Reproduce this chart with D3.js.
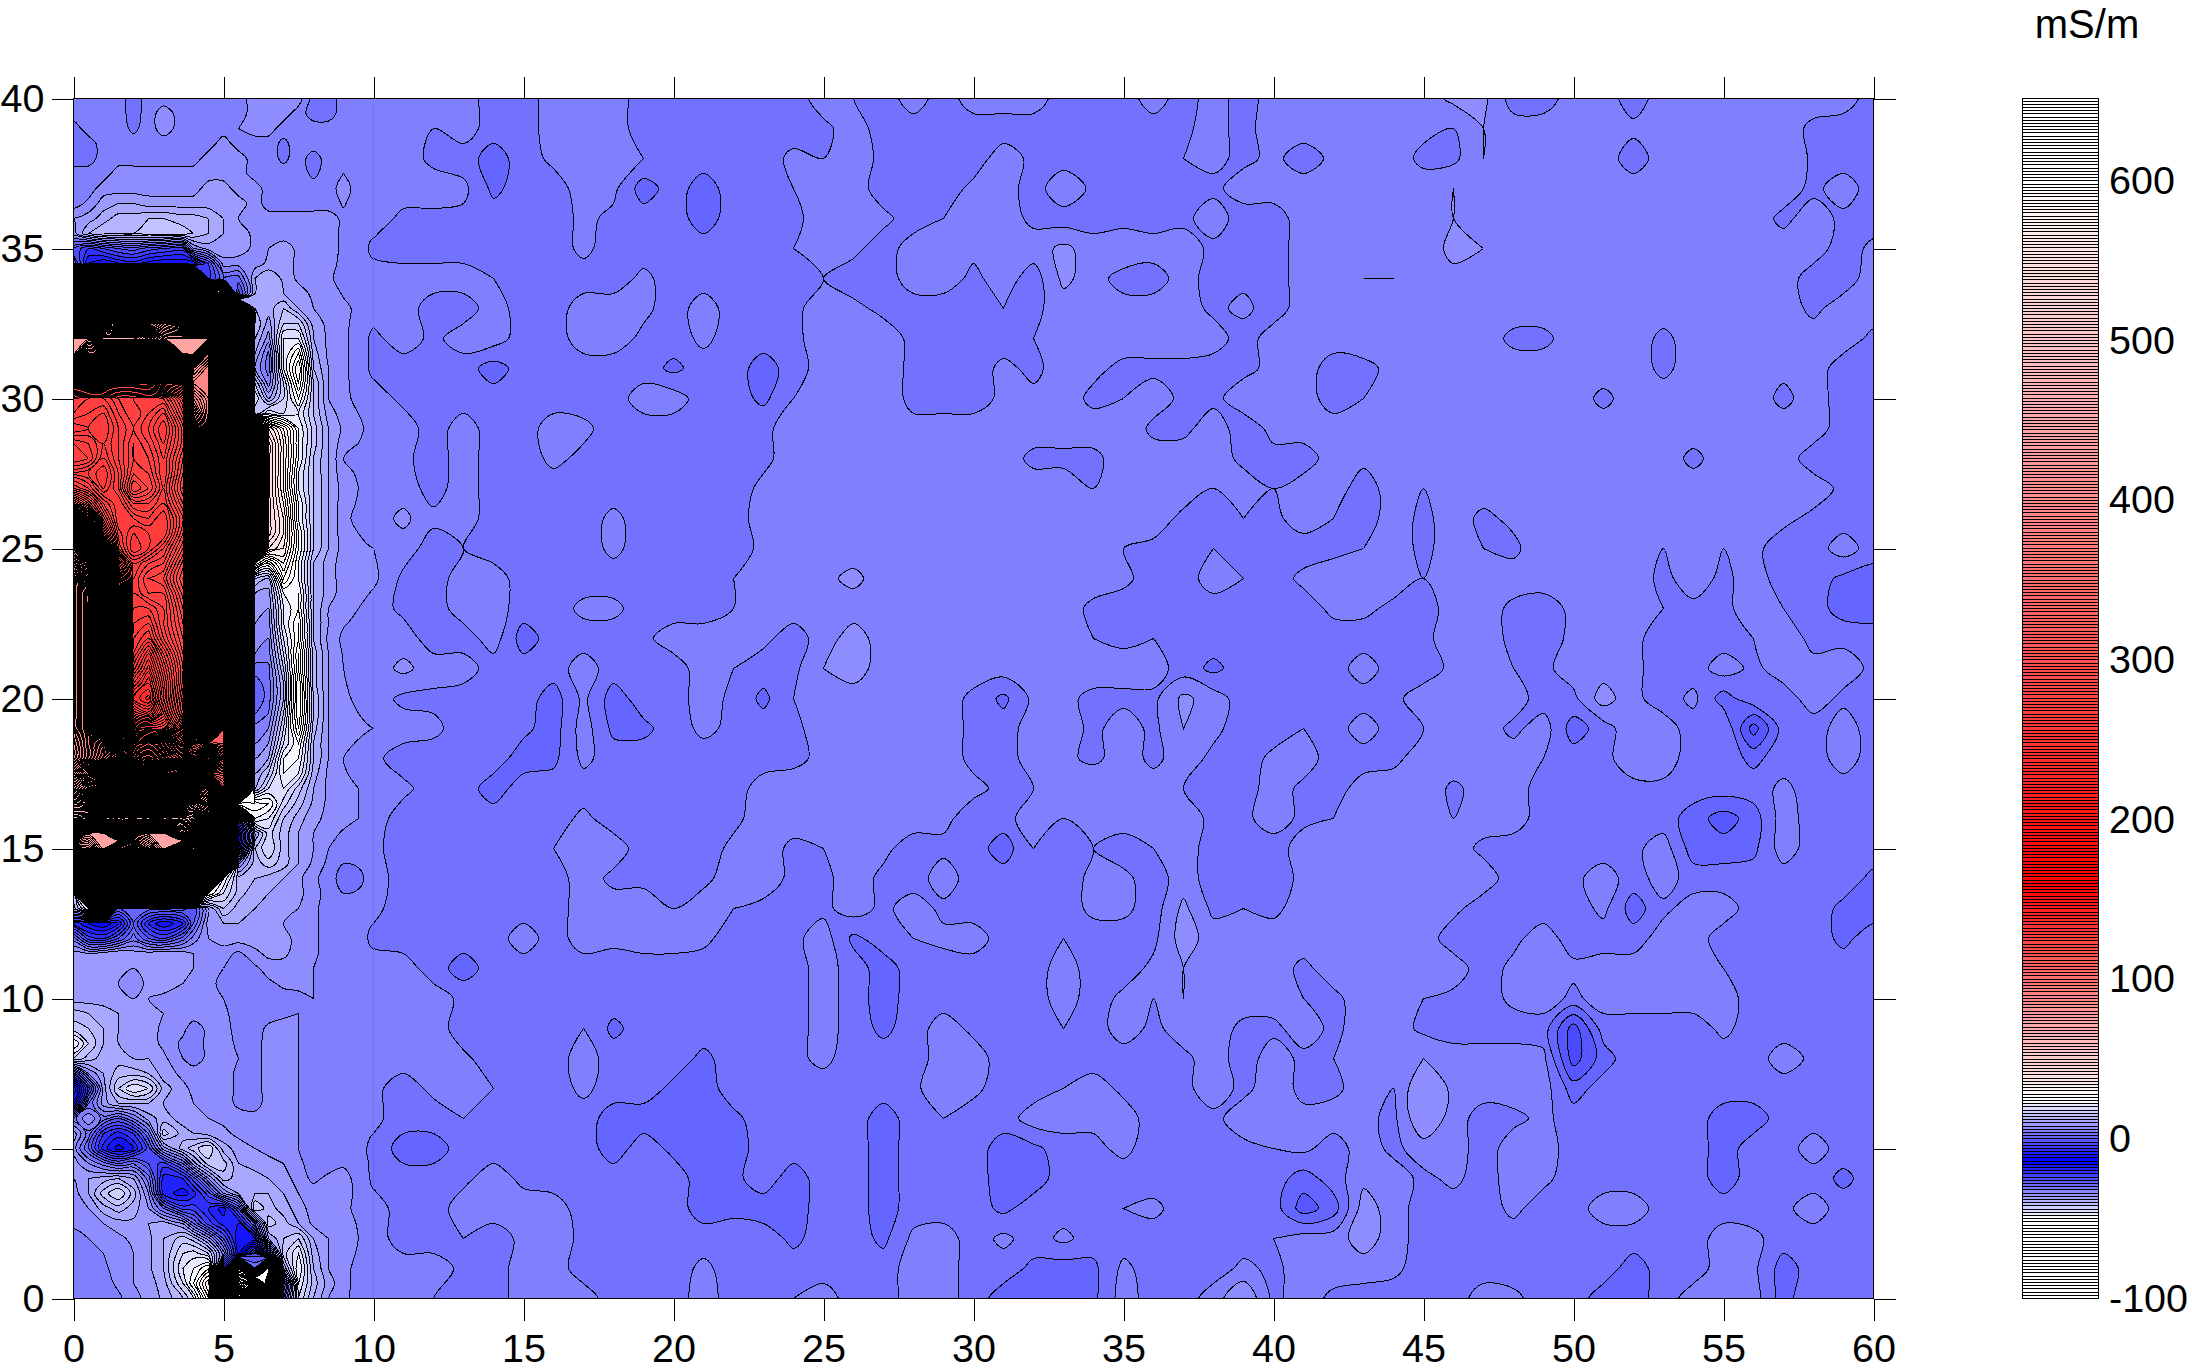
<!DOCTYPE html>
<html>
<head>
<meta charset="utf-8">
<style>html,body{margin:0;padding:0;background:#fff}svg{display:block}text{font-family:"Liberation Sans",Arial,sans-serif;fill:#000}</style>
<script src="https://cdnjs.cloudflare.com/ajax/libs/d3/7.9.0/d3.min.js"></script>
</head>
<body>
<svg id="chart" width="2192" height="1372"></svg>
<script>
const axisTicksX = [0,5,10,15,20,25,30,35,40,45,50,55,60];
const axisTicksY = [0,5,10,15,20,25,30,35,40];
const barTicks = [-100,0,100,200,300,400,500,600];
const unitLabel = "mS/m";
const levelStep = 2;
const levelMin = -100;
const levelMax = 650;
const barTop = 651.6;
const colourStops = [-100,-50,-14,24,160,600,650];
const colourValues = ["#ffffff","#ffffff","#0000ff","#ffffff","#ff0000","#ffffff","#ffffff"];

// west part of the survey: rows y = 40 ... 0 every 0.5
const westX = [0,.5,1,1.5,2,2.5,3,3.65,4,4.5,5,5.5,6.05,6.5,7,7.5,8,8.5,9,9.5,10];
const westRows = [
[5,5,5,5,3,5,5,5,5,5,5,5,7,7,7,7,3,3,5,5,5],
[5,5,5,5,3,5,7,5,5,5,5,5,7,7,7,5,3,3,5,5,5],
[3,5,5,5,3.5,5,7,5,5,5,5,6,7,7,5,5,5,5,5,5,5],
[3,3,5,5,5,5,5,5,5,5,7,5,5,5,3.5,5,5,5,5,5,5],
[3,3,5,5,5,5,5,5,5,7,7,7,5,5,3.5,5,3,5,5,5,5],
[5,5,5,7,7,7,7,7,7,7,7,7,5,5,5,5,3.5,5,6,5,5],
[5,5,7,7,7,7,7,7,7,9,9,7,7,5,5,5,5,5,7,5,5],
[5,6.5,9,10,10,9,9,9,9,9,9,9,7,5,5,5,5,5,6.2,5,5],
[8,9,11,13,13,14,14,13,13,12,10,8,7,7,7,7,7,7,5.5,5,5],
[7,12,14,14,14,15,15,15,14,12,10,9,7.5,7.5,7,7,7,7,5.5,5,4.2],
[-2,-6,-4,-2,-1,-3,-4,-5,6,9,9.5,9,7.5,8,9,7.5,7,7,5.5,5,3.5],
[2,-10,-12,-10,-9,-11,-12,-12,-12,-4,7,7,7,8.5,9,7.5,7,7,5.2,5,4.2],
[120,130,140,140,140,140,130,110,40,-5,2,1,10,12,9.5,7.5,7,6.5,5,5,5],
[230,240,240,240,240,240,230,200,140,50,30,-3,10,12,10,9,7.5,7,5.8,5.2,5],
[330,340,350,350,350,340,330,320,260,180,100,40,12,11,14,10,8,7,6.5,5.5,5],
[400,410,440,440,440,430,420,410,360,300,220,120,14,9,16,16,9,7.5,6.5,5.2,4.2],
[441,441,470,470,470,460,441,441,441,441,320,160,12,7,20,20,10,7.5,6.5,5,3.5],
[441,420,420,420,420,420,400,441,441,400,300,150,10,3.5,20,26,11,7.5,6.5,5,3.5],
[360,355,355,355,355,355,350,345,400,390,300,150,8,3,20,30,12,8,6.5,5,3.5],
[295,295,295,295,295,295,300,305,390,390,300,150,14,5,16,28,14,8,6.5,5.2,4.2],
[270,268,268,272,272,270,272,285,380,390,300,150,18,10,16,24,14,8,6.5,5.5,5],
[268,266,264,270,274,270,266,280,370,390,300,150,14,20,18,20,14,9,7,6,5],
[262,264,262,268,272,268,262,275,360,390,320,220,100,40,32,22,15,10,7.5,6.5,5],
[270,268,264,268,274,270,264,275,350,390,320,220,120,45,34,22,15,10,6.8,6,5],
[272,270,262,268,274,272,266,278,350,390,320,220,120,45,34,22,14,10,6,5.5,5],
[264,262,258,266,276,274,266,280,350,390,320,220,120,45,34,20,14,10,6.5,5.8,5],
[272,268,260,266,280,276,268,282,350,390,320,220,120,45,34,20,14,10,7,6,5],
[290,280,268,262,270,270,266,278,350,390,320,220,120,45,36,22,14,10,6.8,5.8,5],
[320,300,275,262,264,266,262,274,350,390,320,220,120,45,38,22,14,10,6.5,5.5,5],
[350,325,285,265,260,262,262,276,350,390,320,220,120,45,38,24,14,10,6.8,6,5.5],
[380,350,300,268,258,262,268,280,350,390,320,220,110,40,36,24,14,10,7,6.5,6],
[400,375,330,285,266,270,272,285,350,390,320,220,32,24,32,22,12,9,7,6.8,6.2],
[410,380,340,295,268,274,276,288,350,390,320,220,14,12,28,22,12,9,7,7,6.5],
[410,385,345,300,268,272,272,285,350,390,320,220,10,9,22,24,12,9,7,6.5,5.8],
[410,385,345,300,266,266,270,282,350,390,320,220,10,8,20,24,12,8,7,6,5],
[410,385,345,300,264,262,270,280,350,390,320,220,8,7,20,26,12,8,6.2,5.5,5],
[410,385,345,300,262,258,268,278,350,390,320,220,7,6,18,26,12,7.5,5.5,5,5],
[410,385,345,300,260,250,262,276,350,390,320,220,6,5,16,28,13,8,5.8,5,5],
[410,385,345,300,255,245,258,274,350,390,320,220,3,3.5,14,28,13,8,6,5,5],
[410,385,345,300,248,240,255,275,350,390,320,220,1,3,12,30,13,8,6.2,5.2,5],
[410,385,345,300,240,235,254,278,350,390,320,220,0,3,12,30,14,8,6.5,5.5,5],
[410,385,345,300,250,245,258,280,350,390,320,220,2,4,14,30,14,8,6.8,6,5.5],
[410,385,350,310,272,268,268,290,355,390,320,220,5,6,16,28,13,8,7,6.5,6],
[405,385,360,325,300,295,300,310,330,320,320,220,6,8,18,24,12,8,6.5,5.8,5.2],
[405,385,365,345,325,320,325,335,310,270,300,200,8,10,22,22,12,8,6,5,4.5],
[425,410,395,380,360,350,360,370,350,320,320,200,10,14,22,20,11,7.5,6.2,5.5,4.8],
[445,435,425,415,405,400,405,410,420,420,330,180,12,18,20,15,10,7.5,6.5,6,5],
[470,465,455,445,445,445,450,450,460,440,280,28,26,24,17,13,9.5,7.5,6.5,6,5],
[490,495,495,490,485,490,490,485,480,440,230,-5,22,20,14,11,8.5,7.5,6.5,6,5],
[460,441,441,460,441,441,441,460,450,400,180,-15,10,17,13,10,8,6.5,5.8,5.5,4.8],
[420,425,441,420,410,425,441,420,400,340,150,-12,14,18,13,10,8,6,5,5,4.5],
[340,330,320,320,320,320,320,320,300,220,110,6,13,15,13,10,7.5,5.5,4,4.2,4.8],
[260,250,240,240,240,240,230,230,200,120,22,13,12,11,10,8.5,6.5,5,3,3.5,5],
[14,150,150,130,130,130,120,120,80,24,18,13,10.5,10,9,8.5,7,5,4,4.2,4.8],
[11,20,40,0,1,1,1,1,-2,8,14,11,10,9,8.5,8,6.5,5,5,5,4.5],
[-8,-12,-14,-10,0,-8,-12,-8,0,9,10,10,9,8,8,7,6.5,5,5,4.9,4],
[3,-5,-6,-2,3,-2,-4,1,5,8,9,9,9,9,8.5,7.5,6.5,5,5,4.8,3.5],
[9,8,9,10,9,9,10,9,8,7.5,7,5.5,7.5,8.5,8.5,7,6.5,5,5,4.9,4.2],
[8.5,9,9,8.5,8,9,9,8.5,8,7.5,6,5,5.5,7,7,6.5,6,5,5,5,5],
[9,9,9,8,7,8.5,9,8,7.5,7,5,5,5,5.5,6.5,6.5,6,5,5,5,5],
[9,9,9,8,8,8,7.5,7,7,6.5,6,5,5,5,5,5.5,6,5,5,5,5],
[13,12,11,10,9.5,9,8,7,7,7,6.5,5,5,5,5.5,6,5,5,5,5,5],
[15,14,12,10,9.5,9,7.5,6.5,5,6.5,7,5,5,6.5,7,6,5,5,5,5,5],
[22,16,12,10,9.5,9,7.5,5.5,5,6.5,7,5.5,5,7,7,6,5,5,5,5,4.6],
[16,13,11,11,10,10,8.5,6,5,6.5,7,6,5,7,7,6,5,5,5,5,4.2],
[-5,6,10,13,13,12,9,7.5,7,6.5,7,5.5,5,7,7,6,5,5,5,5,4.4],
[-20,-5,9,16,20,18,11,8.5,7.5,7,7,5.5,5,7,7,6,5,5,5,5,4.5],
[-15,2,9,12,12,12,10,8.5,8,7,7,5.5,5,7,7,6,5,5,5,5,4.5],
[3,8,3,0,4,9,11,9,8.5,8,7.5,7,7,7,7,6,5,5,5,5,4.5],
[9,3,-6,-9,-6,2,15,11,10,9,8.5,7.5,6.5,7,7,6,5,5,5,4.8,4],
[7,0,-9,-13,-10,-3,7,13,15,18,11,9,8,7,7,6,5,5,5,4.6,3.5],
[9,6,3,0,2,-2,-5,2,9,15,15,10,9,9,8,6.5,5,5,5.8,5,3.5],
[8,10,11,12,10,3,-9,-8,-3,6,13,11,11,10,9,7,5.5,6.5,6.5,5.5,3.5],
[7,10,15,18,13,6,-9,-11,-9,-3,6,10,12,12,10,8,7,7,6.8,5.5,4.2],
[7,8,11,13,11,8,2,-5,-5,-8,-11,-2,16,13,11,9,7,7,6.5,5.5,5],
[6.5,7,8,9,9.5,10,11,8,2,-5,-9,-10,0,15,13,10,7.5,7,7,5.8,5],
[5,6,7,7.5,8.5,9.5,12,15,13,7,-2,-12,-10,10,14,16,10,8,7,6,5],
[5,5,6,7,8,9.5,12,18,19,16,5,-12,-25,-5,15,20,11,8,6.8,5.8,5],
[5,5,5.5,7,8,9.5,12,20,22,26,-10,-60,-30,-70,10,22,12,8,6.5,5.5,5],
[5,5,5,6.5,8,9,11,18,24,34,-30,-80,-95,-60,-5,20,13,9,6.5,5.4,5],
[5,5,5,5.5,7.5,8.5,10.5,14,18,30,-40,-95,-50,-95,0,18,12,8,6.5,5.3,5]
];

// rest of the survey: rows y = 40 ... 0 every 1; columns x = 9...14
const nearRows = [
[5,5,5,5,5,3],[5,5,5,4,5,3],[5,5,5,3.5,3,1],[7,5,5,5,4.5,1.5],[5.5,5,3.5,3.5,3.5,3],
[5.5,3.5,3,3,3,3],[5,5,5,5,5,4],[6.5,5,5,3,3,5],[6.5,3.5,5,3.5,5,5],[6.5,3.5,3,3,3,1],
[6.5,5,3.5,3,3,3],[7.5,5,5,3,5,3],[6,5,4.5,3,5,3],[7,5,5,3.2,5,3],[6.5,5,6.5,4.5,5,3],
[7,6,5,3,4,3],[7,6.5,3.5,3,5,5],[7,5,3.5,3,5,5],[5.5,5,5,3,3,5],[6,5,6.5,5,5,3],
[6.5,5,3.5,3.5,3,3],[7,6,5,4.5,3,3],[6,4.5,3,3,3,3],[6.5,5,4.5,3,3,1],[6.5,5,3,3,3,3],
[5,4.5,3,3,3,3],[3,5,3,3,3,3],[5,4.5,3,3,3,3],[5,3.5,3,3,3,3],[5,5,5,3,1,3],
[5,5,5,5,3.5,3],[5,5,5,5,3,3],[5,4.2,5,5,4.4,3],[5,4.5,3,4.5,5,4],[5,4.5,3,3,4,3],
[5,3.5,1,1,3,3],[6.5,3.5,3,3,3.5,5],[6.5,5,3,3,5,5],[7,5,3,3,4,3],[6.5,5,5,5,3.5,3],[6.5,5,5,4,3,3]
];
// columns x = 15...36
const midRows = [
[3,5,5,5,3,3,3,3,3,3,5,4,3,5,3,5,5,5,3,3,3,5],
[3,5,5,5,3,3,3,3,3,3,3.5,5,3,3,3,3,3,3,3,3,3,3],
[3,4.5,5,5,4,3,3,3,3,4.5,4,5,3.5,3,3,3,5,3.5,3,3,3,3],
[3,3,5,4.5,1,3,1,3,3,4,5,5,3,3,3,4.5,5,3,5.5,3.5,3,3],
[3,3,4.5,3.5,3,3,1,3,3,3.5,5,5,4.5,3,4,5,5,3.5,3,3,3,3],
[3,3,4.5,3,3,3,3,3,3,4,5,4.5,3,5,4,4.5,5,5,6.5,5,6,5],
[3,3,3,3,4.5,3,3,3,3,3.5,4,3,3,5,5,3.5,5,3,6.5,5,3,3],
[3,3,5,5,4.5,3,5,3,3,3.5,5,4.5,3.5,3,3,3,4,3.5,5,5,5,5],
[3,3,5,5,3.5,3,4.5,3,3,3.5,5,5,5,3.5,3,3,3,4,5,5,5,5],
[3,3,3,3,3,1.5,3,3,1,3,5,5,5,3.5,3,3,4.5,3.5,5,4.5,3.5,3.5],
[3,3,3,3,5,5,3,3,1.5,4,5,5,5,3.5,3,3,4.5,4.5,5,3.5,4,5],
[3,5,4.5,3,3,3,3,3,3.5,5,5,5,5,4.5,5,5,5,5,5,5,5.5,3.5],
[3,4.5,3.5,3,3,3,3,3,3.5,5,5,5,5,5,5,5,5,3.5,3.5,3.5,5,5],
[3,3,3.5,3,3,3,3,3,4.5,5,5,5,5,5,5,5,5,5,5,4,5,5],
[3,3,3,4.5,3,3.5,3,3,5,4.5,5,5,5,5,5,5,5,5,5,5,5,5],
[3,3,3,4.5,3,4,3,3,4.5,4,5.5,5,5,5,5,5,5,5,5,5,4,3.5],
[3,3,3,3,3,3,3,4,5,4.5,5.5,6.5,5,5,5,5,5,5,5,5,4.5,3],
[3,3,4.5,4.5,3,3,3,4,5,5,5,5,5,5,4.5,4.5,5,5,5,3.5,3,3],
[1,3,3,3,3.5,5,5,4,4.5,3,5,7,5,5,5,5,5,5,5,4,3.5,4],
[3,3,5,3,4,3,5,4,3,3.5,6,7,5,5,5,5,5,5,5,5,5,5],
[3,1,4.5,1,3,3,5,3.5,1.5,4,5,5,5,5,5,3.5,1.5,4.5,4.5,3.5,3.5,3.5],
[2.5,1,5,1.5,1.5,3,4.5,3.5,3,3.5,5,5,5,5,5,3.5,3,5,5,3.5,5,3.5],
[1,1.5,4.5,3,3,3,3,3,3.5,3.5,4.5,5,5,5,5,3.5,3,5,4.5,3.5,5,3.5],
[3,3,3,3,3,3,3,3.5,4.5,5,5,5,5,5,5,4.5,3.5,4,5,6,4.5,5],
[3,3,4.5,3,3,3,3,3.5,5,5,5,5,5,5,4.5,3,3,5.5,4,5,5,5],
[3,4,5,5,3,3,3,4.5,5,3.5,4,5,4.5,3,3.5,3,1,4,3.5,4,3,4],
[3,3,5,3.5,3.5,3,3.5,5,5,3.5,3.5,5,3.5,3,5,3,3,3,3,4.5,4.5,3],
[3,3,5,5,5,4,5,4,3.5,3.5,3.5,5,3.5,5,3.5,3,3,3,3,4.5,4.5,3],
[5,3,5,4.5,5,5,4.5,3,3,3.5,5,1.5,3,4,4.5,5,3,3,4,3,3,3.5],
[3,3,3,3,3,3,3,3,3,3,5,3,1,3,3,3,3,3,5,3,3,4.5],
[3,3,3,3,3.5,3,3,3,3,3,5,3,1,3,3,3,3,3,5,3,4.5,4],
[3,3,4,1.5,3,3,3,3,3,3,5,3,1.5,3,5,3.5,3,3,4,3,5,3.5],
[3,3,5,3,3,3,1.5,3,3,3.5,4.5,3,3,3,5,5,3,3,3,3,3,3],
[3,3,4.5,3,3,1.5,1,3,3,3,3,4,3,3.5,5.5,4.5,3,3,4,5,3.5,3],
[3,3,3,1,1,1.5,1,1.5,3,3,3,3,1,3,4,3,3,5,5,4.5,5,3],
[3,3,3,1,3,1.5,1,1,3,3,3,3,1,3,3,3,1,1.5,3,3.5,4.5,3],
[3.5,3,3,3,3,3,1,1.5,3,1,3,3,1,3,3,3,1,1,3,3,3,3],
[5,5,3,3,3,3,1,1.5,1,1,3,3,1,3,3,3,1.5,3,3,3,4,4.5],
[4.5,5,3.5,3,3,3,3,3,3,1.5,3,3,1.5,4.5,5,3,4.5,3,4.5,3,3,3],
[5,5,3,3,3,3,4.5,3,3,3,3,3,3,5,5,3,3,1.5,1,1.5,4.5,3],
[5,5,5,3,3,3,5,3,3,4,5,3,3,5,5,3,1,1,1,1.5,5,3]
];
// columns x = 37...60
const farRows = [
[3,5,3,5,5,5.5,5,5,5,6.5,6.5,3,3,5,5,3,5,5,4.5,5,5,5,5,3],
[3.5,5,3,5.5,5,5,5,5,4.5,4,6,5,5,5,5,4.5,5,5,5,5,5,3.5,3,3],
[4,4.5,3.5,4.5,3,4.5,5,5,3.5,3.5,6,5,5,5,5,3,5,5,5,5,6,3.5,3,3],
[3,3.5,5,5,5,5,5,5,5,6,5,5,5,5,5,5,5,5,5,5,5,3.5,5,3],
[3.5,5,3,3,5,5,5,5,5,6,5,4,5,6,5,5,5,5.5,5,5,3.5,5,3.5,3],
[5,3.5,3,3,5,5,5,5,5,6.5,6,4,5,5,5,5,5,5.5,4.5,5,5,5,3,4.5],
[5,3,3.5,3,5,5,6,6,5,5.5,5,5,5,5,5,5,5,5,5,5,5,3,3,5],
[5,3.5,4.5,3,5,5,5.5,5,5,5,5,5,5,5,5,5,5,5,5,5,5,3.5,5,5],
[5,5,3,5,5,5,5,5,5,5,5,3.5,3.5,5,5,5,3.5,5,5,5,5,5,5,3.5],
[3.5,3,3.5,4.5,5,3,3.5,4.5,5,5.5,5,5,5,5,5,5,3.5,5,5,5,4.5,5,3,3],
[3.5,3.5,5,5,5,3,4,4.5,5,5,5,5,5,5,3.5,5,5,5,5,5,3.5,5,3,3.5],
[3.5,5,3,4.5,5,5,5,5,5,5,5,5,5,5,5,4.5,5,5,5,5,5,5,3,3],
[5,5,3.5,3.5,3,5,4.5,5,5,6,5,5,5,5,5,5,5,3.5,5,4,5,3,3,3],
[5,4,5,4,5,5,3,5,4,5,5,5,5,5,5,5,5,5,5,5,5,5,3.5,3],
[3.5,3,4,3.5,5,4,3,5,3.5,5,3.5,4.5,5,5,5,5,5,5,5,5,4.5,3.5,3,3],
[3,4,3,3,3,3.5,4,5,3.5,5,4,3.5,5.5,5,5,5,4,5,4,4.5,3,3,5,3],
[3,5,4,3,4.5,5,5,5,4,5,5,5,5,4,4,5,3.5,5,3.5,5,3,3,1.5,1],
[3,3,3,3,3,4.5,4.5,3.5,3,5,5,3.5,3,4.5,5,4.5,4,3.5,3.5,5,4,3,1,1],
[3,3,3,3,3,3,3,3,3.5,5,5,3.5,3,4.5,5,4.5,3,3,3,4,5,3.5,3.5,3],
[3,1.5,3,3,3,3,5,3,3,4.5,5,4,3.5,5,5,4.5,3,3,5,3.5,5,4.5,5,3.5],
[6.5,5,3,3,3,3.5,3,3.5,5,4,5,5,3,3.5,7,4.5,3,4.5,1,3.5,3,5,3.5,3],
[6,4.5,3,3,4,3,5,3,4,5,5,3.5,5,1,3,5.5,5,3,4,-3,3,3,5,3],
[5,3.5,3,4.5,5,3,3,3.5,5,5.5,6,5,4,3,3.5,5,5,3,3,1.5,3,3,5,3],
[4,3,3,5,3.5,3,5,5,5.5,3.5,5,5,3,3,3,3.5,3.5,3,3,3,4.5,3,3,3],
[5,3.5,3.5,5,3.5,4,6,5,5,4,5,5,3,3,3,3,3,1,-1,1,5,3,3,3],
[5,3,3,3,5,5,5,5,5,5,3.5,3,3,3,3,3.5,5,1,1,1.5,5,3,3,3],
[5,3,3,3,4.5,5,5,5,4.5,6,5,3,3,3.5,5,3,5,3,3,3,3,3,3,1.5],
[6.5,3.5,4,3.5,5,5,5,5,5,4.5,3,3,3,3,4.5,1,3.5,5,5,3,3,3,1.5,1],
[7,5,5,5,5,4,5,4.5,5,3,3,3.5,5,3,3,3,5,5,3,3,3,3,1.5,3],
[6,5,5,5,3.5,5,5,5.5,5,5,3,4.5,5,4.5,5,5,5,5,4,3,3,3,3,3],
[6,5,5,5,4,3.5,5,5,4,3.5,3,4.5,5,3.5,5,5,5,5,5,3,3,3,3,3],
[5,5,3.5,3.5,5,3.5,5,5,3.5,3,3,3,3,-3,3,3,3,3,4.5,3,3,3,3,3],
[3.5,5,3,5,3.5,4,5,5,6,5,5,5,4.5,-3,1,3.5,3,3,3,3,5,3.5,3,4],
[3.5,5,3.5,5,3.5,3.5,5,4,8,5.5,5,5,5,1,3,3,3,3,3,3,3,3,3,3],
[3,3.5,5,5,4.5,5,4.5,3.5,8,5,3,3.5,4.5,3,4,3,3,3,1,1,3,3,3,3],
[3,3,3.5,4,4.5,3,5,3.5,5,5,3,5,5,3,3,3,3,3,1,3,3,5,3,3],
[3,3,3,3,1,3,5.5,5,3.5,4.5,3,5,4.5,3,3,3,3,3,1,3,3,3,1.5,3],
[3,3,3,3,-1,1,7,5,3,3,3,4.5,3,3,5,5,3,3,3,3,3.5,5,3,3],
[3,3,3,4,5,5,7,5,3,3,3,3,3,3,3,3,3,3,5,4.5,3,3,3,3],
[3,3,4.5,3.5,5,5,5,4.5,3,3,3,3,3,3,3,1,3,3,5,4.5,1,3,3,3],
[3,5,8,3.5,5,3.5,3,3,4,3,5,4.5,3,3,1,1,3,5,5,5,1,4,3,3]
];

// ---------- assembly ----------
const eastX = d3.range(9, 61);
const eastRows = nearRows.map((r, i) => {
  if (r.length !== 6 || midRows[i].length !== 22 || farRows[i].length !== 24)
    throw new Error("bad east row " + i + " " + r.length + " " + midRows[i].length + " " + farRows[i].length);
  return r.concat(midRows[i], farRows[i]);
});
westRows.forEach((r, i) => { if (r.length !== westX.length) throw new Error("bad west row " + i + " " + r.length); });
if (westRows.length !== 81 || nearRows.length !== 41 || midRows.length !== 41 || farRows.length !== 41)
  throw new Error("row counts " + westRows.length + " " + nearRows.length + " " + midRows.length + " " + farRows.length);
const westY = westRows.map((_, i) => 40 - i * 0.5);
const eastY = eastRows.map((_, i) => 40 - i);

const x = d3.scaleLinear().domain([0, 60]).range([73.5, 1873.5]);
const y = d3.scaleLinear().domain([0, 40]).range([1298.5, 98.5]);
const barY = d3.scaleLinear().domain([levelMin, barTop]).range([1298.5, 98.5]);
const colour = d3.scaleLinear().domain(colourStops).range(colourValues).clamp(true);
const levels = d3.range(levelMin, levelMax + levelStep, levelStep);
const svg = d3.select("#chart");
const defs = svg.append("defs");
const seam = 10;

function clip(id, x0, x1) {
  defs.append("clipPath").attr("id", id).append("rect")
    .attr("x", x(x0)).attr("y", y(40)).attr("width", x(x1) - x(x0)).attr("height", y(0) - y(40));
}
clip("clipW", 0, seam);
clip("clipE", seam, 60);

function drawField(id, rows, xs, ys) {
  const padX = [xs[0] - 1, ...xs, xs[xs.length - 1] + 1];
  const padY = [ys[0] + 1, ...ys, ys[ys.length - 1] - 1];
  const padded = [rows[0], ...rows, rows[rows.length - 1]].map(r => [r[0], ...r, r[r.length - 1]]);
  const nx = padX.length, ny = padY.length;
  const flat = padded.flat();
  const lo = d3.min(flat), hi = d3.max(flat);
  const gx = d3.scaleLinear().domain(d3.range(nx)).range(padX);
  const gy = d3.scaleLinear().domain(d3.range(ny)).range(padY);
  const use = levels.filter(t => t > lo && t <= hi);
  const bands = d3.contours().size([nx, ny]).smooth(true).thresholds(use)(flat);
  const line = d3.line().curve(d3.curveCatmullRomClosed.alpha(0.5))
    .x(p => x(gx(p[0] - 0.5))).y(p => y(gy(p[1] - 0.5)));
  const pathOf = b => b.coordinates.map(poly => poly.map(ring => line(ring.slice(0, -1))).join("")).join("");
  const g = svg.append("g").attr("clip-path", `url(#${id})`);
  g.append("rect").attr("x", x(0)).attr("y", y(40)).attr("width", x(60) - x(0)).attr("height", y(0) - y(40))
    .attr("fill", colour(Math.floor(lo / levelStep) * levelStep + levelStep / 2));
  g.selectAll("path").data(bands.filter(b => b.coordinates.length)).join("path")
    .attr("d", pathOf)
    .attr("fill", b => colour(b.value + levelStep / 2))
    .attr("fill-rule", "evenodd")
    .attr("stroke", "#000").attr("stroke-width", 1)
    .attr("shape-rendering", "crispEdges");
}
drawField("clipE", eastRows, eastX, eastY);
drawField("clipW", westRows, westX, westY);

// frame and axes
const fontPx = 39.5;
svg.append("rect").attr("x", x(0)).attr("y", y(40)).attr("width", x(60) - x(0)).attr("height", y(0) - y(40))
  .attr("fill", "none").attr("stroke", "#000").attr("stroke-width", 1).attr("shape-rendering", "crispEdges");
function styleAxis(g) {
  g.select(".domain").remove();
  g.selectAll("line").attr("stroke", "#000").attr("shape-rendering", "crispEdges");
  g.selectAll("text").attr("font-size", fontPx).attr("font-family", '"Liberation Sans",Arial,sans-serif').attr("fill", "#000");
}
svg.append("g").attr("transform", `translate(0,${y(0)})`)
  .call(d3.axisBottom(x).tickValues(axisTicksX).tickSize(22).tickPadding(13).tickFormat(String)).call(styleAxis);
svg.append("g").attr("transform", `translate(0,${y(40)})`)
  .call(d3.axisTop(x).tickValues(axisTicksX).tickSize(22).tickFormat("")).call(styleAxis);
svg.append("g").attr("transform", `translate(${x(0)},0)`)
  .call(d3.axisLeft(y).tickValues(axisTicksY).tickSize(22).tickPadding(7).tickFormat(String)).call(styleAxis);
svg.append("g").attr("transform", `translate(${x(60)},0)`)
  .call(d3.axisRight(y).tickValues(axisTicksY).tickSize(22).tickFormat("")).call(styleAxis);

// colour bar
const barX0 = 2022.5, barX1 = 2098.5;
const bar = svg.append("g");
bar.selectAll("rect.band").data(levels.slice(0, -1)).join("rect").attr("class", "band")
  .attr("x", barX0).attr("width", barX1 - barX0)
  .attr("y", t => barY(t + levelStep)).attr("height", t => barY(t) - barY(t + levelStep))
  .attr("fill", t => colour(t + levelStep / 2));
bar.selectAll("line").data(levels).join("line")
  .attr("x1", barX0).attr("x2", barX1).attr("y1", t => barY(t)).attr("y2", t => barY(t))
  .attr("stroke", "#000").attr("shape-rendering", "crispEdges");
bar.append("rect").attr("x", barX0).attr("y", barY(barTop)).attr("width", barX1 - barX0).attr("height", barY(levelMin) - barY(barTop))
  .attr("fill", "none").attr("stroke", "#000").attr("shape-rendering", "crispEdges");
svg.append("g").attr("transform", `translate(${barX1},0)`)
  .call(d3.axisRight(barY).tickValues(barTicks).tickSize(0).tickPadding(10.5).tickFormat(String)).call(styleAxis);
svg.append("text").attr("x", 2087).attr("y", 38).attr("text-anchor", "middle").attr("font-size", 40).text(unitLabel);
</script>
</body>
</html>
